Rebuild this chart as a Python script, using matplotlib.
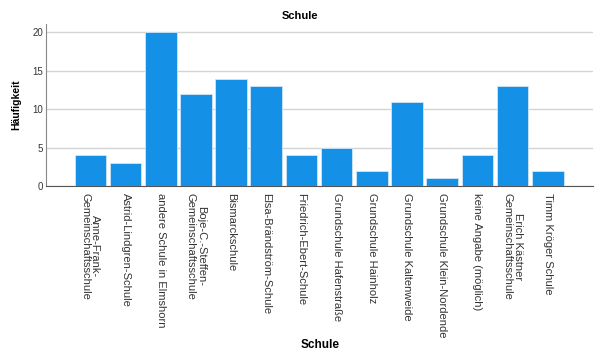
import matplotlib

matplotlib.use("Agg")
import matplotlib.pyplot as plt
import numpy as np

schools = [
    "Anne-Frank-\nGemeinschaftsschule",
    "Astrid-Lindgren-Schule",
    "andere Schule in Elmshorn",
    "Boje-C.-Steffen-\nGemeinschaftsschule",
    "Bismarckschule",
    "Elsa-Brändström-Schule",
    "Friedrich-Ebert-Schule",
    "Grundschule Hafenstraße",
    "Grundschule Hainholz",
    "Grundschule Kaltenweide",
    "Grundschule Klein-Nordende",
    "keine Angabe (möglich)",
    "Erich Kästner\nGemeinschaftsschule",
    "Timm Kröger Schule",
]
counts = [4, 3, 20, 12, 14, 13, 4, 5, 2, 11, 1, 4, 13, 2]
yticks = [0, 5, 10, 15, 20]

plt.rcParams["font.family"] = ["Liberation Sans", "DejaVu Sans"]

fig = plt.figure(figsize=(6.0, 3.53), dpi=100)
ax = fig.add_axes([0.0767, 0.473, 0.9113, 0.459])

x = np.arange(len(schools))
ax.bar(x, counts, width=0.9, color="#1490e6", edgecolor="#cfe6f8", linewidth=0.6, zorder=3)

ax.set_xlim(-1.26, len(schools) - 1 + 1.28)
ax.set_ylim(0, 21.1)
ax.set_yticks(yticks)
ax.yaxis.grid(True, color="#d4d4d4", linewidth=1.0, zorder=0)
ax.set_xticks(x)
ax.set_xticklabels(schools, rotation=-90, ha="center", va="top", fontsize=8,
                   color="#333333", linespacing=1.0)
ax.tick_params(axis="both", length=0)
ax.tick_params(axis="y", pad=2, labelsize=7, labelcolor="#333333")
ax.tick_params(axis="x", pad=5)

for side in ["top", "right"]:
    ax.spines[side].set_visible(False)
ax.spines["left"].set_color("#888888")
ax.spines["bottom"].set_color("#555555")
ax.spines["left"].set_linewidth(0.8)
ax.spines["bottom"].set_linewidth(0.8)

ax.set_ylabel("Häufigkeit", fontsize=7.5, fontweight="bold")
ax.yaxis.set_label_coords(-0.045, 0.5)
fig.text(0.533, 0.005, "Schule", ha="center", va="bottom", fontsize=8.5, fontweight="bold")
fig.text(0.5, 0.955, "Schule", ha="center", va="center", fontsize=8, fontweight="bold")

fig.savefig("out.png", dpi=100)
